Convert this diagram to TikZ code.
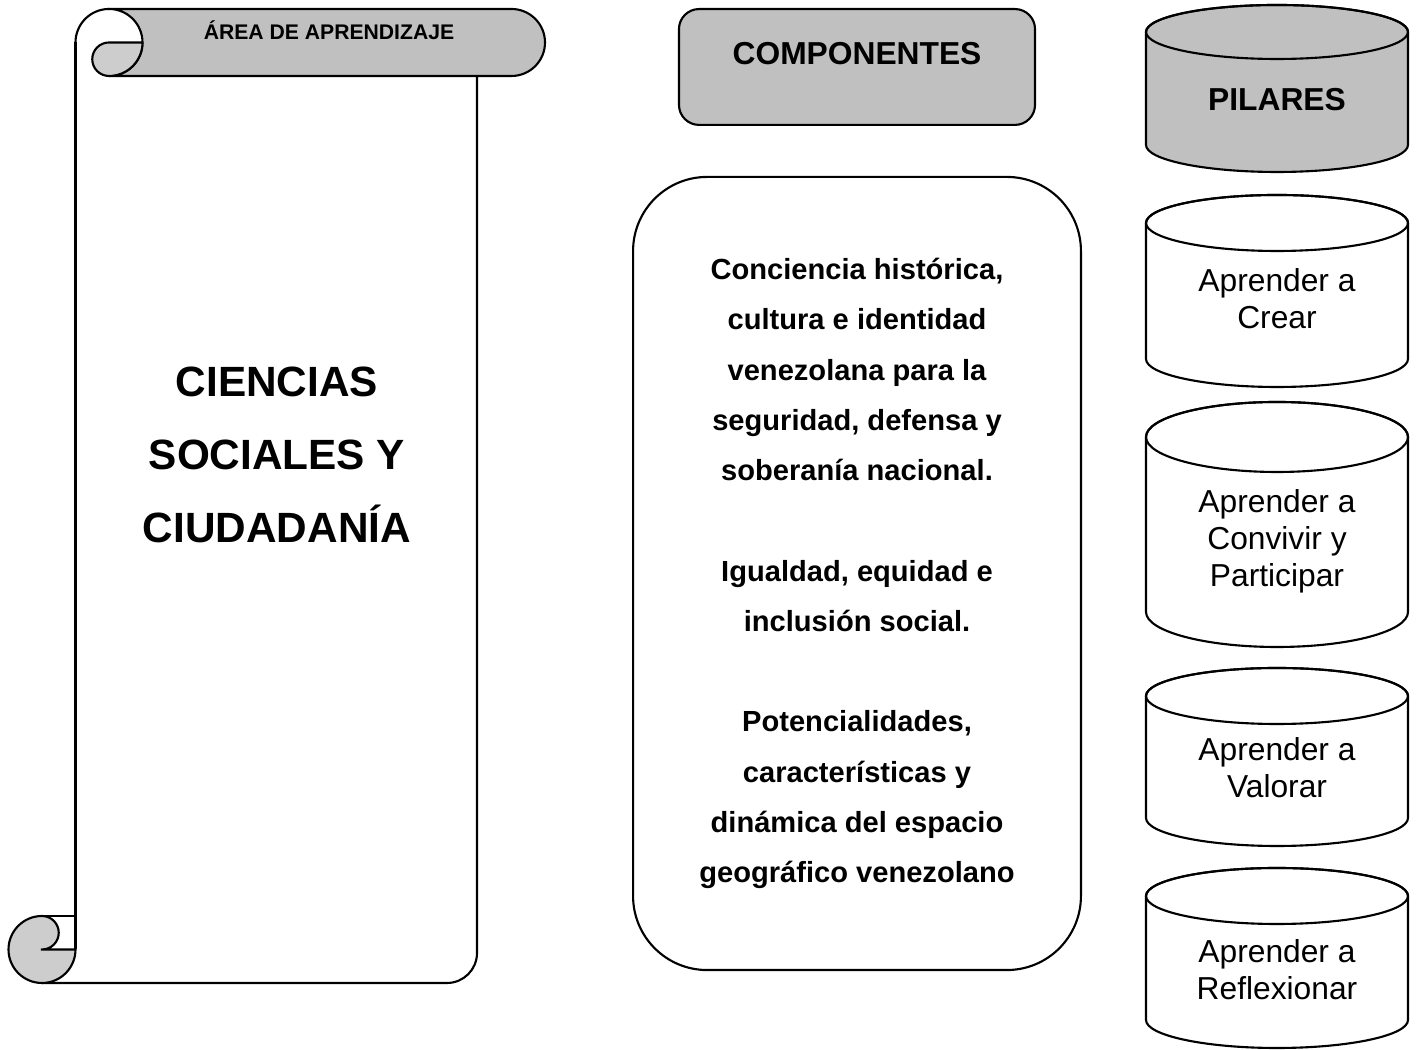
\documentclass[tikz,border=0pt]{standalone}
\usepackage{fontspec}
\setmainfont{Liberation Sans}
\definecolor{headgray}{HTML}{C0C0C0}
\definecolor{curlgray}{HTML}{CDCDCD}

% can shape: fill, top centre, bottom centre, y radius
\newcommand{\drawcan}[4]{%
  \filldraw[fill=#1] (1146,#2) -- (1146,#3)
    arc[start angle=180, end angle=360, x radius=131, y radius=#4] -- (1408,#2)
    arc[start angle=0, end angle=180, x radius=131, y radius=#4] -- cycle;
  \draw (1277,#2) ellipse[x radius=131, y radius=#4];
}

\begin{document}
\begin{tikzpicture}[
    x=0.378pt, y=0.378pt,
    line width=0.8pt,
    headbox/.style={draw, fill=headgray, rounded corners=7.6pt},
    compbox/.style={draw, rounded corners=28pt, minimum width=169.3pt, minimum height=299.8pt,
      align=center, font=\fontsize{11}{19}\selectfont\bfseries},
    pilartext/.style={align=center, font=\fontsize{12}{14}\selectfont},
  ]
  \useasboundingbox (0,0) rectangle (1418,1050);

  % Scroll
  \draw (75.5,1007.5) -- (75.5,100.5);
  \draw (477,974) -- (477,97) arc[start angle=0, end angle=-90, radius=30] -- (42,67);
  \filldraw[fill=headgray] (109,1041) -- (511.5,1041) arc[start angle=90, end angle=-90, radius=33.5]
    -- (109,974) arc[start angle=-90, end angle=90, radius=33.5] -- cycle;
  \draw (75.5,1007.5) arc[start angle=180, end angle=90, radius=33.5];
  \filldraw[fill=curlgray] (142.5,1007.5) -- (109,1007.5) arc[start angle=90, end angle=270, radius=16.75]
    arc[start angle=-90, end angle=0, radius=33.5];
  \filldraw[fill=curlgray] (42,100.5) -- (75.5,100.5) arc[start angle=0, end angle=-270, radius=33.5]
    arc[start angle=90, end angle=-90, radius=16.75] -- cycle;
  \draw (42,134) -- (75.5,134);

  \node[anchor=base, font=\fontsize{8}{10}\selectfont\bfseries] (areatitle) at (329,1010) {ÁREA DE APRENDIZAJE};
  \node[align=center, font=\fontsize{16}{27.6}\selectfont\bfseries] (area) at (277,595) {CIENCIAS\\SOCIALES Y\\CIUDADANÍA};

  % Components
  \node[headbox, minimum width=134.6pt, minimum height=43.8pt] (comphead) at (857,983) {};
  \node[font=\fontsize{12}{14}\selectfont\bfseries] (comptitle) at ([yshift=4.9pt]comphead.center) {COMPONENTES};
  \node[compbox] (comp) at (857,476.5) {Conciencia histórica,\\cultura e identidad\\venezolana para la\\seguridad, defensa y\\soberanía nacional.\\[19pt]Igualdad, equidad e\\inclusión social.\\[19pt]Potencialidades,\\características y\\dinámica del espacio\\geográfico venezolano};

  % Pillars
  \drawcan{headgray}{1018}{905}{27}
  \drawcan{white}{827}{691}{28}
  \drawcan{white}{613}{438}{35}
  \drawcan{white}{354}{232}{28}
  \drawcan{white}{154}{30}{28}

  \node[pilartext, font=\fontsize{12}{14}\selectfont\bfseries] (pilares) at (1277,950) {PILARES};
  \node[pilartext] (crear) at (1277,751) {Aprender a\\Crear};
  \node[pilartext] (convivir) at (1277,509) {Aprender a\\Convivir y\\Participar};
  \node[pilartext] (valorar) at (1277,282) {Aprender a\\Valorar};
  \node[pilartext] (reflexionar) at (1277,80) {Aprender a\\Reflexionar};
\end{tikzpicture}
\end{document}
